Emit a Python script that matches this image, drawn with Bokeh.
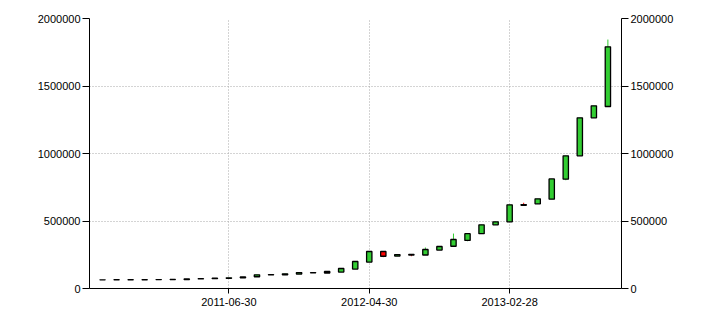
from bokeh.plotting import figure
from bokeh.models import (Range1d, LinearAxis, FixedTicker, BasicTickFormatter,
                          ColumnDataSource)
from bokeh.embed import file_html
from bokeh.resources import INLINE

# Monthly OHLC, 2010-09-30 .. 2013-09-30
dates = ["2010-09-30", "2010-10-31", "2010-11-30", "2010-12-31",
         "2011-01-31", "2011-02-28", "2011-03-31", "2011-04-30",
         "2011-05-31", "2011-06-30", "2011-07-31", "2011-08-31",
         "2011-09-30", "2011-10-31", "2011-11-30", "2011-12-31",
         "2012-01-31", "2012-02-29", "2012-03-31", "2012-04-30",
         "2012-05-31", "2012-06-30", "2012-07-31", "2012-08-31",
         "2012-09-30", "2012-10-31", "2012-11-30", "2012-12-31",
         "2013-01-31", "2013-02-28", "2013-03-31", "2013-04-30",
         "2013-05-31", "2013-06-30", "2013-07-31", "2013-08-31",
         "2013-09-30"]
opens = [64000, 64500, 64800, 65000, 65500, 66000, 66500, 71000, 72500, 76000,
         79000, 87000, 101000, 102000, 107000, 116000, 115000, 122000, 144000,
         196000, 274000, 240000, 252000, 248000, 285000, 313000, 356000, 406000,
         472000, 494000, 622000, 627000, 662000, 810000, 983000, 1264000, 1348000]
closes = [64500, 64800, 65000, 65500, 66000, 66500, 71000, 72500, 76000, 79000,
          86000, 101000, 102000, 109000, 118000, 117000, 126000, 148000, 200000,
          274000, 239000, 251000, 248000, 289000, 311000, 363000, 406000, 472000,
          494000, 620000, 616000, 664000, 812000, 983000, 1264000, 1353000, 1790000]
highs = [64500, 64800, 65000, 65500, 66000, 66500, 71000, 72500, 76000, 79000,
         86000, 101000, 102000, 109000, 118000, 117000, 126000, 148000, 200000,
         274000, 274000, 251000, 252000, 304000, 311000, 407000, 406000, 472000,
         494000, 620000, 635000, 664000, 812000, 983000, 1264000, 1353000, 1844000]
lows = [64000, 64500, 64800, 65000, 65500, 66000, 64500, 71000, 71000, 76000,
        79000, 87000, 101000, 99000, 107000, 116000, 115000, 122000, 144000,
        196000, 232000, 240000, 239000, 248000, 285000, 313000, 350000, 406000,
        472000, 494000, 614000, 627000, 662000, 802000, 983000, 1264000, 1348000]
y_ticks = [0, 500000, 1000000, 1500000, 2000000]
x_tick_idx = [9, 19, 29]

idx = list(range(len(dates)))
up = [c >= o for o, c in zip(opens, closes)]
src = ColumnDataSource(dict(
    x=idx,
    top=[max(o, c) for o, c in zip(opens, closes)],
    bottom=[min(o, c) for o, c in zip(opens, closes)],
    high=highs, low=lows,
    color=["#32CD32" if u else "#FF0000" for u in up],
))

FONT = "Liberation Sans"
p = figure(width=710, height=325, output_backend="svg", toolbar_location=None,
           x_range=Range1d(-0.93, 36.97), y_range=Range1d(0, 2000000),
           min_border_left=89, min_border_right=89, min_border_top=18,
           min_border_bottom=37, y_axis_location="left")
p.outline_line_color = None
p.background_fill_color = "white"
p.border_fill_color = "white"

p.segment(x0="x", y0="low", x1="x", y1="high", color="color", line_width=1,
          source=src)
p.vbar(x="x", width=0.38, top="top", bottom="bottom", fill_color="color",
       line_color="black", line_width=1.3, source=src)

# axes
p.yaxis.ticker = FixedTicker(ticks=y_ticks)
p.yaxis.formatter = BasicTickFormatter(use_scientific=False)
ax_r = LinearAxis(ticker=FixedTicker(ticks=y_ticks),
                  formatter=BasicTickFormatter(use_scientific=False))
p.add_layout(ax_r, "right")
p.xaxis.ticker = FixedTicker(ticks=x_tick_idx)
p.xaxis.major_label_overrides = {i: dates[i] for i in x_tick_idx}

for ax in [p.xaxis[0], p.yaxis[0], ax_r]:
    ax.axis_line_color = "black"
    ax.axis_line_width = 1
    ax.major_tick_line_color = "black"
    ax.major_tick_in = 0
    ax.minor_tick_line_color = None
    ax.major_label_text_font = FONT
    ax.major_label_text_font_size = "11px"
    ax.major_label_text_color = "black"
p.yaxis[0].major_tick_out = 7
ax_r.major_tick_out = 7
p.yaxis[0].major_label_standoff = 2
ax_r.major_label_standoff = 2
p.xaxis[0].major_tick_out = 5
p.xaxis[0].major_label_standoff = 4

p.xgrid.ticker = FixedTicker(ticks=x_tick_idx)
for g in [p.xgrid[0], p.ygrid[0]]:
    g.grid_line_color = "#A8A8A8"
    g.grid_line_dash = "1 2"
    g.grid_line_width = 1

open("out.html", "w").write(file_html(p, INLINE))
